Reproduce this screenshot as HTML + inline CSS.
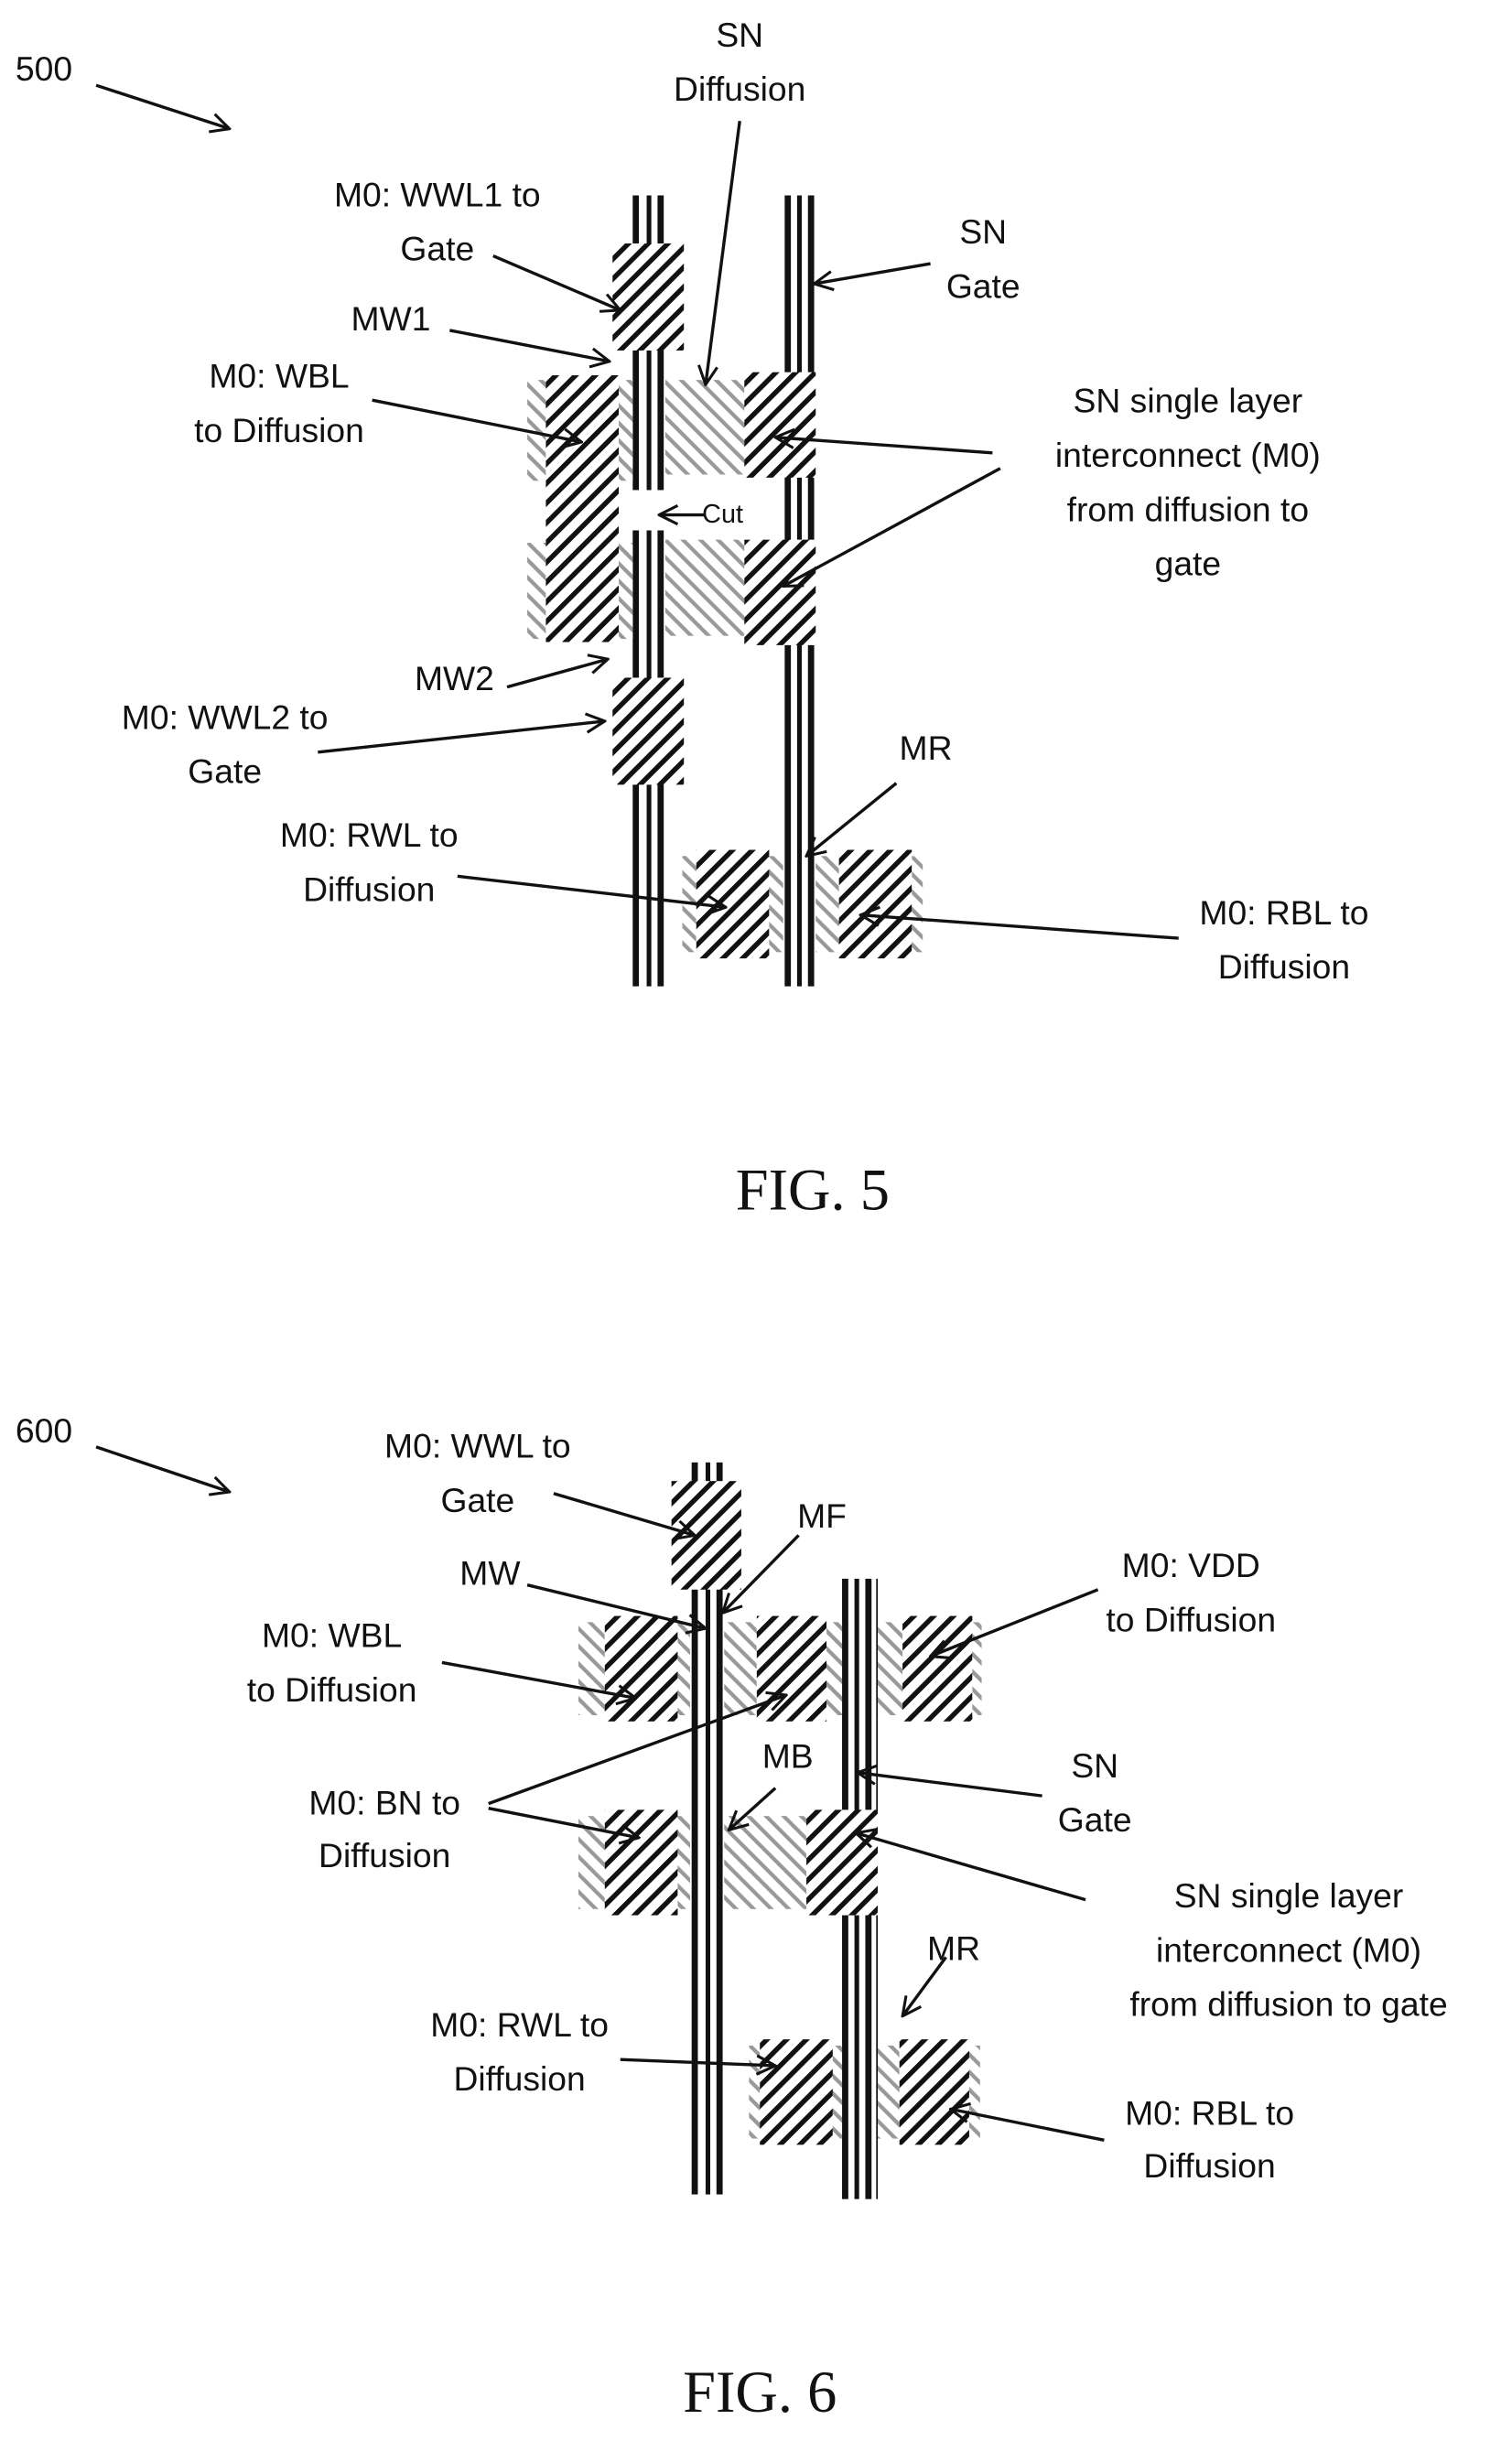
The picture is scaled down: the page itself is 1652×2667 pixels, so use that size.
<!DOCTYPE html>
<html><head><meta charset="utf-8"><style>
html,body{margin:0;padding:0;background:#fff;}
svg{display:block;}
text{font-family:"Liberation Sans",sans-serif;font-size:22px;fill:#111;text-anchor:middle;}
.f{font-family:"Liberation Serif",serif;font-size:38px;}
</style></head><body>
<svg width="1652" height="2667" viewBox="0 0 975 1574" preserveAspectRatio="none" xmlns="http://www.w3.org/2000/svg">
<defs>
<pattern id="dk" patternUnits="userSpaceOnUse" width="9" height="9" patternTransform="rotate(45)">
<rect width="9" height="9" fill="#fff"/><rect x="0" y="0" width="3.2" height="9" fill="#111"/></pattern>
<pattern id="gr" patternUnits="userSpaceOnUse" width="8" height="8" patternTransform="rotate(-45)">
<rect width="8" height="8" fill="#fff"/><rect x="0" y="0" width="2.5" height="8" fill="#999"/></pattern>
<marker id="a" markerWidth="14" markerHeight="14" refX="13" refY="7" orient="auto" markerUnits="userSpaceOnUse">
<path d="M1,1 L13,7 L1,13" fill="none" stroke="#111" stroke-width="1.8"/></marker>
</defs>
<!-- fig5 buses -->
<g fill="#111">
<rect x="408" y="126" width="4" height="190"/><rect x="417" y="126" width="3" height="190"/><rect x="424" y="126" width="4" height="190"/>
<rect x="408" y="342" width="4" height="294"/><rect x="417" y="342" width="3" height="294"/><rect x="424" y="342" width="4" height="294"/>
<rect x="506" y="126" width="4" height="510"/><rect x="514" y="126" width="3" height="510"/><rect x="521" y="126" width="4" height="510"/>
</g>
<g>
<rect x="395" y="157" width="46" height="69" fill="url(#dk)"/>
<rect x="340" y="245" width="12" height="65" fill="url(#gr)"/>
<rect x="340" y="350" width="12" height="62" fill="url(#gr)"/>
<rect x="399" y="245" width="9" height="65" fill="url(#gr)"/>
<rect x="399" y="350" width="9" height="62" fill="url(#gr)"/>
<rect x="352" y="242" width="47" height="172" fill="url(#dk)"/>
<rect x="429" y="245" width="51" height="61" fill="url(#gr)"/>
<rect x="480" y="240" width="46" height="68" fill="url(#dk)"/>
<rect x="429" y="348" width="51" height="62" fill="url(#gr)"/>
<rect x="480" y="348" width="46" height="68" fill="url(#dk)"/>
<rect x="395" y="437" width="46" height="69" fill="url(#dk)"/>
<rect x="440" y="552" width="9" height="62" fill="url(#gr)"/>
<rect x="449" y="548" width="47" height="70" fill="url(#dk)"/>
<rect x="496" y="552" width="9" height="62" fill="url(#gr)"/>
<rect x="526" y="552" width="15" height="62" fill="url(#gr)"/>
<rect x="541" y="548" width="47" height="70" fill="url(#dk)"/>
<rect x="588" y="552" width="7" height="62" fill="url(#gr)"/>
</g>
<g stroke="#111" stroke-width="2" fill="none" marker-end="url(#a)">
<line x1="62" y1="55" x2="148" y2="83"/>
<line x1="477" y1="78" x2="455" y2="248"/>
<line x1="318" y1="165" x2="400" y2="200"/>
<line x1="600" y1="170" x2="525" y2="183"/>
<line x1="290" y1="213" x2="393" y2="233"/>
<line x1="240" y1="258" x2="375" y2="285"/>
<line x1="640" y1="292" x2="500" y2="282"/>
<line x1="645" y1="302" x2="505" y2="378"/>
<line x1="455" y1="332" x2="425" y2="332"/>
<line x1="327" y1="443" x2="392" y2="425"/>
<line x1="205" y1="485" x2="390" y2="465"/>
<line x1="295" y1="565" x2="468" y2="585"/>
<line x1="578" y1="505" x2="520" y2="552"/>
<line x1="760" y1="605" x2="555" y2="590"/>
</g>
<text x="10" y="52" style="text-anchor:start">500</text>
<text x="477" y="30">SN</text><text x="477" y="65">Diffusion</text>
<text x="282" y="133">M0: WWL1 to</text><text x="282" y="168">Gate</text>
<text x="634" y="157">SN</text><text x="634" y="192">Gate</text>
<text x="252" y="213">MW1</text>
<text x="180" y="250">M0: WBL</text><text x="180" y="285">to Diffusion</text>
<text x="766" y="266">SN single layer</text><text x="766" y="301">interconnect (M0)</text><text x="766" y="336">from diffusion to</text><text x="766" y="371">gate</text>
<text x="466" y="337" style="font-size:17px">Cut</text>
<text x="293" y="445">MW2</text>
<text x="145" y="470">M0: WWL2 to</text><text x="145" y="505">Gate</text>
<text x="238" y="546">M0: RWL to</text><text x="238" y="581">Diffusion</text>
<text x="597" y="490">MR</text>
<text x="828" y="596">M0: RBL to</text><text x="828" y="631">Diffusion</text>
<text class="f" x="524" y="780">FIG. 5</text>

<!-- fig6 -->
<g fill="#111">
<rect x="446" y="943" width="4" height="472"/><rect x="455" y="943" width="3" height="472"/><rect x="462" y="943" width="4" height="472"/>
<rect x="543" y="1018" width="4" height="400"/><rect x="551" y="1018" width="3" height="400"/><rect x="558" y="1018" width="4" height="400"/>
<rect x="565" y="1018" width="1" height="400"/>
</g>
<g>
<rect x="433" y="955" width="45" height="70" fill="url(#dk)"/>
<rect x="373" y="1046" width="17" height="60" fill="url(#gr)"/>
<rect x="390" y="1042" width="47" height="68" fill="url(#dk)"/>
<rect x="437" y="1046" width="8" height="60" fill="url(#gr)"/>
<rect x="467" y="1046" width="21" height="60" fill="url(#gr)"/>
<rect x="488" y="1042" width="45" height="68" fill="url(#dk)"/>
<rect x="533" y="1046" width="10" height="60" fill="url(#gr)"/>
<rect x="566" y="1046" width="16" height="60" fill="url(#gr)"/>
<rect x="582" y="1042" width="45" height="68" fill="url(#dk)"/>
<rect x="627" y="1046" width="6" height="60" fill="url(#gr)"/>
<rect x="373" y="1171" width="17" height="60" fill="url(#gr)"/>
<rect x="390" y="1167" width="47" height="68" fill="url(#dk)"/>
<rect x="437" y="1171" width="8" height="60" fill="url(#gr)"/>
<rect x="467" y="1171" width="53" height="60" fill="url(#gr)"/>
<rect x="520" y="1167" width="46" height="68" fill="url(#dk)"/>
<rect x="483" y="1319" width="7" height="60" fill="url(#gr)"/>
<rect x="490" y="1315" width="47" height="68" fill="url(#dk)"/>
<rect x="537" y="1319" width="6" height="60" fill="url(#gr)"/>
<rect x="566" y="1319" width="14" height="60" fill="url(#gr)"/>
<rect x="580" y="1315" width="45" height="68" fill="url(#dk)"/>
<rect x="625" y="1319" width="7" height="60" fill="url(#gr)"/>
</g>
<g stroke="#111" stroke-width="2" fill="none" marker-end="url(#a)">
<line x1="62" y1="933" x2="148" y2="962"/>
<line x1="357" y1="963" x2="448" y2="990"/>
<line x1="515" y1="990" x2="466" y2="1040"/>
<line x1="340" y1="1022" x2="455" y2="1050"/>
<line x1="708" y1="1025" x2="600" y2="1068"/>
<line x1="285" y1="1072" x2="410" y2="1095"/>
<line x1="315" y1="1163" x2="507" y2="1093"/>
<line x1="315" y1="1166" x2="412" y2="1185"/>
<line x1="500" y1="1153" x2="470" y2="1180"/>
<line x1="672" y1="1158" x2="553" y2="1143"/>
<line x1="700" y1="1225" x2="552" y2="1182"/>
<line x1="610" y1="1262" x2="582" y2="1300"/>
<line x1="400" y1="1328" x2="500" y2="1332"/>
<line x1="712" y1="1380" x2="613" y2="1360"/>
</g>
<text x="10" y="930" style="text-anchor:start">600</text>
<text x="308" y="940">M0: WWL to</text><text x="308" y="975">Gate</text>
<text x="530" y="985">MF</text>
<text x="316" y="1022">MW</text>
<text x="768" y="1017">M0: VDD</text><text x="768" y="1052">to Diffusion</text>
<text x="214" y="1062">M0: WBL</text><text x="214" y="1097">to Diffusion</text>
<text x="248" y="1170">M0: BN to</text><text x="248" y="1204">Diffusion</text>
<text x="508" y="1140">MB</text>
<text x="706" y="1146">SN</text><text x="706" y="1181">Gate</text>
<text x="831" y="1230">SN single layer</text><text x="831" y="1265">interconnect (M0)</text><text x="831" y="1300">from diffusion to gate</text>
<text x="615" y="1264">MR</text>
<text x="335" y="1313">M0: RWL to</text><text x="335" y="1348">Diffusion</text>
<text x="780" y="1370">M0: RBL to</text><text x="780" y="1404">Diffusion</text>
<text class="f" x="490" y="1555">FIG. 6</text>
</svg>
</body></html>
